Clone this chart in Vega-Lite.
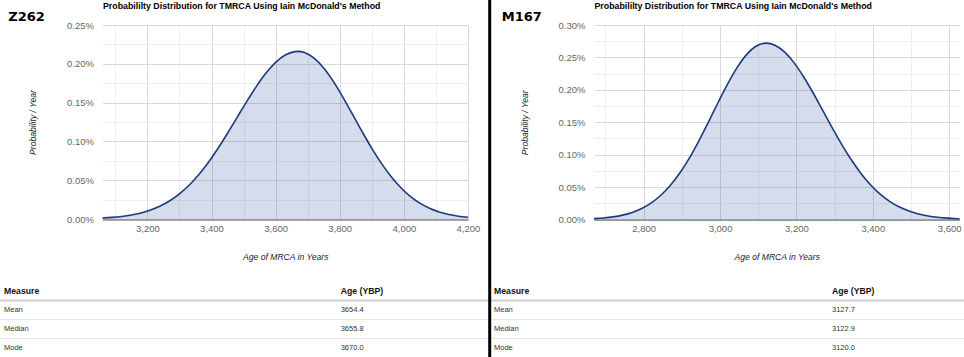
{
  "$schema": "https://vega.github.io/schema/vega-lite/v6.json",
  "width": 964,
  "height": 357,
  "autosize": {"type": "none"},
  "padding": 0,
  "background": "white",
  "config": {
    "view": {"stroke": null},
    "font": "Liberation Sans",
    "axis": {"labelFont": "Liberation Sans", "titleFont": "Liberation Sans", "labelFlush": false, "labelOverlap": false}
  },
  "datasets": {
    "z262": [
      {"age": 3060, "p": 0.0000125}, {"age": 3090, "p": 0.0000205}, {"age": 3120, "p": 0.0000327},
      {"age": 3150, "p": 0.000051}, {"age": 3180, "p": 0.0000777}, {"age": 3210, "p": 0.0001153},
      {"age": 3240, "p": 0.0001668}, {"age": 3270, "p": 0.0002355}, {"age": 3300, "p": 0.0003243},
      {"age": 3330, "p": 0.0004356}, {"age": 3360, "p": 0.0005707}, {"age": 3390, "p": 0.0007292},
      {"age": 3420, "p": 0.0009088}, {"age": 3450, "p": 0.0011049}, {"age": 3480, "p": 0.0013101},
      {"age": 3510, "p": 0.0015152}, {"age": 3540, "p": 0.0017091}, {"age": 3570, "p": 0.0018806},
      {"age": 3600, "p": 0.0020182}, {"age": 3630, "p": 0.0021127}, {"age": 3660, "p": 0.002157},
      {"age": 3670, "p": 0.00216}, {"age": 3690, "p": 0.0021459}, {"age": 3720, "p": 0.0020736},
      {"age": 3750, "p": 0.0019457}, {"age": 3780, "p": 0.0017728}, {"age": 3810, "p": 0.0015685},
      {"age": 3840, "p": 0.0013475}, {"age": 3870, "p": 0.0011242}, {"age": 3900, "p": 0.0009106},
      {"age": 3930, "p": 0.0007163}, {"age": 3960, "p": 0.0005472}, {"age": 3990, "p": 0.0004058},
      {"age": 4020, "p": 0.0002923}, {"age": 4050, "p": 0.0002044}, {"age": 4080, "p": 0.0001388},
      {"age": 4110, "p": 0.0000916}, {"age": 4140, "p": 0.0000586}, {"age": 4170, "p": 0.0000365},
      {"age": 4200, "p": 0.000022}
    ],
    "m167": [
      {"age": 2670, "p": 0.0000134}, {"age": 2695, "p": 0.0000237}, {"age": 2720, "p": 0.0000408},
      {"age": 2745, "p": 0.0000678}, {"age": 2770, "p": 0.0001091}, {"age": 2795, "p": 0.0001699},
      {"age": 2820, "p": 0.0002561}, {"age": 2845, "p": 0.0003735}, {"age": 2870, "p": 0.0005271},
      {"age": 2895, "p": 0.00072}, {"age": 2920, "p": 0.0009517}, {"age": 2945, "p": 0.0012173},
      {"age": 2970, "p": 0.0015066}, {"age": 2995, "p": 0.0018047}, {"age": 3020, "p": 0.002092},
      {"age": 3045, "p": 0.0023465}, {"age": 3070, "p": 0.0025472}, {"age": 3095, "p": 0.0026757},
      {"age": 3120, "p": 0.00272}, {"age": 3145, "p": 0.0026835}, {"age": 3170, "p": 0.0025768},
      {"age": 3195, "p": 0.0024083}, {"age": 3220, "p": 0.0021907}, {"age": 3245, "p": 0.0019396},
      {"age": 3270, "p": 0.0016715}, {"age": 3295, "p": 0.001402}, {"age": 3320, "p": 0.0011445},
      {"age": 3345, "p": 0.0009094}, {"age": 3370, "p": 0.0007033}, {"age": 3395, "p": 0.0005293},
      {"age": 3420, "p": 0.0003879}, {"age": 3445, "p": 0.0002765}, {"age": 3470, "p": 0.000192},
      {"age": 3495, "p": 0.0001297}, {"age": 3520, "p": 0.0000853}, {"age": 3545, "p": 0.0000546},
      {"age": 3570, "p": 0.000034}, {"age": 3595, "p": 0.0000206}, {"age": 3620, "p": 0.0000122},
      {"age": 3627, "p": 0.0000104}
    ],
    "table": [
      {"panel": "Z262", "row": 0, "column": "Measure", "text": "Measure"},
      {"panel": "Z262", "row": 0, "column": "Age (YBP)", "text": "Age (YBP)"},
      {"panel": "Z262", "row": 1, "column": "Measure", "text": "Mean"},
      {"panel": "Z262", "row": 1, "column": "Age (YBP)", "text": "3654.4"},
      {"panel": "Z262", "row": 2, "column": "Measure", "text": "Median"},
      {"panel": "Z262", "row": 2, "column": "Age (YBP)", "text": "3655.8"},
      {"panel": "Z262", "row": 3, "column": "Measure", "text": "Mode"},
      {"panel": "Z262", "row": 3, "column": "Age (YBP)", "text": "3670.0"},
      {"panel": "M167", "row": 0, "column": "Measure", "text": "Measure"},
      {"panel": "M167", "row": 0, "column": "Age (YBP)", "text": "Age (YBP)"},
      {"panel": "M167", "row": 1, "column": "Measure", "text": "Mean"},
      {"panel": "M167", "row": 1, "column": "Age (YBP)", "text": "3127.7"},
      {"panel": "M167", "row": 2, "column": "Measure", "text": "Median"},
      {"panel": "M167", "row": 2, "column": "Age (YBP)", "text": "3122.9"},
      {"panel": "M167", "row": 3, "column": "Measure", "text": "Mode"},
      {"panel": "M167", "row": 3, "column": "Age (YBP)", "text": "3120.0"}
    ],
    "panels": [{"panel": "Z262"}, {"panel": "M167"}]
  },
  "layer": [
    {
      "data": {"name": "z262"},
      "layer": [
        {
          "mark": {"type": "area", "interpolate": "monotone", "color": "#2f52a0", "opacity": 0.2},
          "encoding": {
            "x": {
              "field": "age", "type": "quantitative",
              "scale": {"domain": [3060, 4200], "range": [102.5, 468], "nice": false, "zero": false},
              "axis": {
                "orient": "bottom", "offset": -137.5, "values": [3200, 3400, 3600, 3800, 4000, 4200], "format": ",d",
                "grid": false, "ticks": false, "domain": true, "domainColor": "#555",
                "labelFontSize": 9.5, "labelColor": "#666", "labelPadding": 4,
                "title": "Age of MRCA in Years", "titleFontStyle": "italic", "titleFontWeight": "normal",
                "titleFontSize": 8.6, "titleColor": "#222", "titlePadding": 19
              }
            },
            "y": {
              "field": "p", "type": "quantitative",
              "scale": {"domain": [0, 0.0025], "range": [219, 25], "nice": false},
              "axis": {
                "orient": "left", "offset": -102.5,
                "values": [0, 0.00025, 0.0005, 0.00075, 0.001, 0.00125, 0.0015, 0.00175, 0.002, 0.00225, 0.0025],
                "format": ".2%", "labelExpr": "round(datum.value * 20000) % 2 === 0 ? datum.label : ''",
                "grid": true,
                "gridColor": {"condition": {"test": "round(datum.value * 20000) % 2 === 0", "value": "#d9d9d9"}, "value": "#eeeeee"},
                "ticks": false, "domain": false,
                "labelFontSize": 9.5, "labelColor": "#666", "labelPadding": 9,
                "title": "Probability / Year", "titleFontStyle": "italic", "titleFontWeight": "normal",
                "titleFontSize": 8.6, "titleColor": "#222", "titlePadding": 29
              }
            }
          }
        },
        {
          "mark": {"type": "line", "interpolate": "monotone", "color": "#1c3a7e", "strokeWidth": 1.6},
          "encoding": {
            "x": {
              "field": "age", "type": "quantitative",
              "axis": {
                "orient": "top", "offset": -25,
                "values": [3100, 3200, 3300, 3400, 3500, 3600, 3700, 3800, 3900, 4000, 4100, 4200],
                "grid": true,
                "gridColor": {"condition": {"test": "datum.value % 200 === 0", "value": "#d9d9d9"}, "value": "#eeeeee"},
                "labels": false, "ticks": false, "domain": false,
                "title": "Probabililty Distribution for TMRCA Using Iain McDonald's Method",
                "titleAnchor": "start", "titleAlign": "left", "titleFontSize": 8.8, "titleFontWeight": "bold",
                "titleColor": "#000", "titlePadding": 15
              }
            },
            "y": {"field": "p", "type": "quantitative", "axis": null}
          }
        }
      ],
      "resolve": {"axis": {"x": "independent", "y": "independent"}}
    },
    {
      "data": {"name": "m167"},
      "layer": [
        {
          "mark": {"type": "area", "interpolate": "monotone", "color": "#2f52a0", "opacity": 0.2},
          "encoding": {
            "x": {
              "field": "age", "type": "quantitative",
              "scale": {"domain": [2670, 3627], "range": [594, 959.5], "nice": false, "zero": false},
              "axis": {
                "orient": "bottom", "offset": -137.5, "values": [2800, 3000, 3200, 3400, 3600], "format": ",d",
                "grid": false, "ticks": false, "domain": true, "domainColor": "#555",
                "labelFontSize": 9.5, "labelColor": "#666", "labelPadding": 4,
                "title": "Age of MRCA in Years", "titleFontStyle": "italic", "titleFontWeight": "normal",
                "titleFontSize": 8.6, "titleColor": "#222", "titlePadding": 19
              }
            },
            "y": {
              "field": "p", "type": "quantitative",
              "scale": {"domain": [0, 0.003], "range": [219.5, 25], "nice": false},
              "axis": {
                "orient": "left", "offset": -594,
                "values": [0, 0.00025, 0.0005, 0.00075, 0.001, 0.00125, 0.0015, 0.00175, 0.002, 0.00225, 0.0025, 0.00275, 0.003],
                "format": ".2%", "labelExpr": "round(datum.value * 20000) % 2 === 0 ? datum.label : ''",
                "grid": true,
                "gridColor": {"condition": {"test": "round(datum.value * 20000) % 2 === 0", "value": "#d9d9d9"}, "value": "#eeeeee"},
                "ticks": false, "domain": false,
                "labelFontSize": 9.5, "labelColor": "#666", "labelPadding": 9,
                "title": "Probability / Year", "titleFontStyle": "italic", "titleFontWeight": "normal",
                "titleFontSize": 8.6, "titleColor": "#222", "titlePadding": 29
              }
            }
          }
        },
        {
          "mark": {"type": "line", "interpolate": "monotone", "color": "#1c3a7e", "strokeWidth": 1.6},
          "encoding": {
            "x": {
              "field": "age", "type": "quantitative",
              "axis": {
                "orient": "top", "offset": -25,
                "values": [2700, 2800, 2900, 3000, 3100, 3200, 3300, 3400, 3500, 3600],
                "grid": true,
                "gridColor": {"condition": {"test": "datum.value % 200 === 0", "value": "#d9d9d9"}, "value": "#eeeeee"},
                "labels": false, "ticks": false, "domain": false,
                "title": "Probabililty Distribution for TMRCA Using Iain McDonald's Method",
                "titleAnchor": "start", "titleAlign": "left", "titleFontSize": 8.8, "titleFontWeight": "bold",
                "titleColor": "#000", "titlePadding": 15
              }
            },
            "y": {"field": "p", "type": "quantitative", "axis": null}
          }
        }
      ],
      "resolve": {"axis": {"x": "independent", "y": "independent"}}
    },
    {
      "data": {"name": "table"},
      "transform": [{"filter": "datum.panel === 'Z262' && datum.column === 'Measure'"}],
      "mark": {"type": "rule"},
      "encoding": {
        "y": {"field": "row", "type": "quantitative", "scale": {"domain": [0, 3], "range": [290.5, 347.5], "nice": false}, "axis": null},
        "yOffset": {"value": 10},
        "color": {"condition": {"test": "datum.row === 0", "value": "#d0d0d0"}, "value": "#e8e8e8"},
        "strokeWidth": {"condition": {"test": "datum.row === 0", "value": 2}, "value": 1}
      }
    },
    {
      "data": {"name": "table"},
      "transform": [{"filter": "datum.panel === 'Z262'"}],
      "encoding": {
        "x": {"field": "column", "type": "nominal", "scale": {"type": "point", "domain": ["Measure", "Age (YBP)"], "range": [4, 340.7], "padding": 0}, "axis": null},
        "y": {"field": "row", "type": "quantitative", "scale": {"domain": [0, 3], "range": [290.5, 347.5], "nice": false}, "axis": null},
        "text": {"field": "text"}
      },
      "layer": [
        {"transform": [{"filter": "datum.row === 0"}], "mark": {"type": "text", "align": "left", "baseline": "middle", "fontWeight": "bold", "fontSize": 8.7, "color": "#111"}},
        {"transform": [{"filter": "datum.row > 0"}], "mark": {"type": "text", "align": "left", "baseline": "middle", "fontSize": 7.5, "color": "#333"}}
      ]
    },
    {
      "data": {"name": "table"},
      "transform": [{"filter": "datum.panel === 'M167'"}],
      "encoding": {
        "x": {"field": "column", "type": "nominal", "scale": {"type": "point", "domain": ["Measure", "Age (YBP)"], "range": [494, 832], "padding": 0}, "axis": null},
        "y": {"field": "row", "type": "quantitative", "scale": {"domain": [0, 3], "range": [290.5, 347.5], "nice": false}, "axis": null},
        "text": {"field": "text"}
      },
      "layer": [
        {"transform": [{"filter": "datum.row === 0"}], "mark": {"type": "text", "align": "left", "baseline": "middle", "fontWeight": "bold", "fontSize": 8.7, "color": "#111"}},
        {"transform": [{"filter": "datum.row > 0"}], "mark": {"type": "text", "align": "left", "baseline": "middle", "fontSize": 7.5, "color": "#333"}}
      ]
    },
    {
      "data": {"name": "panels"},
      "mark": {"type": "text", "align": "left", "baseline": "middle", "font": "DejaVu Sans", "fontWeight": "bold", "fontSize": 13, "color": "#000"},
      "encoding": {
        "x": {"field": "panel", "type": "nominal", "scale": {"type": "point", "domain": ["Z262", "M167"], "range": [8.3, 501.7], "padding": 0}, "axis": null},
        "y": {"field": "panel", "type": "nominal", "scale": {"type": "point", "domain": ["Z262", "M167"], "range": [16.5, 16.5], "padding": 0}, "axis": null},
        "text": {"field": "panel"}
      }
    },
    {
      "data": {"name": "panels"},
      "transform": [{"filter": "datum.panel === 'M167'"}],
      "mark": {"type": "rule", "strokeWidth": 3, "color": "#000"},
      "encoding": {
        "x": {"field": "panel", "type": "nominal", "scale": {"type": "point", "domain": ["Z262", "M167"], "range": [0, 489.7], "padding": 0}, "axis": null}
      }
    }
  ],
  "resolve": {
    "scale": {"x": "independent", "y": "independent"},
    "axis": {"x": "independent", "y": "independent"}
  }
}
